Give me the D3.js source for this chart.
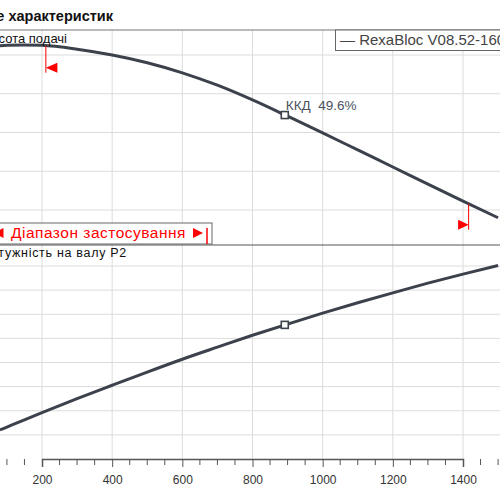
<!DOCTYPE html>
<html><head><meta charset="utf-8">
<script src="https://cdn.jsdelivr.net/npm/d3@7"></script>
<style>body{margin:0;background:#fff}svg{display:block;font-family:"Liberation Sans",Arial,sans-serif}</style>
</head><body><svg id="c" width="500" height="500"></svg>
<script>
// Flow Q (m³/h)
const flow = [80,100,150,200,300,400,500,600,700,800,900,1000,1100,1200,1300,1400,1500];
// Head H (m)
const head = [52.4,52.5,52.6,52.5,51.5,50.0,48.0,45.4,42.2,38.4,34.2,29.9,25.5,21.1,16.7,12.3,8.0];
// Shaft power P2 (kW)
const power = [30.1,33.1,40.6,48.0,62.5,76.4,90.1,103.4,115.9,128.2,139.8,151.1,161.9,172.2,182.2,191.6,200.6];
const xTicks = [200,400,600,800,1000,1200,1400];
const headTicks = [10,20,30,40,50];
const powerTicks = [25,50,75,100,125,150,175,200];
const dutyPoint = {q:892, h:34.5, p:139};
const rangeMin = 211, rangeMax = 1416;
const effLabel = "ККД  49.6%";

const svg = d3.select("#c");
const x = d3.scaleLinear().domain([200,1400]).range([42,463]);
const yH = d3.scaleLinear().domain([10,50]).range([210,55]);
const yP = d3.scaleLinear().domain([0,200]).range([459,266]);
const topY = 30, midY = 245, botY = 459;

const defs = svg.append("defs");
defs.append("clipPath").attr("id","cTop").append("rect").attr("x",0).attr("y",topY).attr("width",500).attr("height",midY-topY);
defs.append("clipPath").attr("id","cBot").append("rect").attr("x",0).attr("y",midY).attr("width",500).attr("height",botY-midY);

// grid
const grid = svg.append("g").attr("stroke","#dcdcdc").attr("stroke-width",1);
grid.selectAll(".v").data(xTicks).join("line")
  .attr("x1",d=>x(d)).attr("x2",d=>x(d)).attr("y1",topY).attr("y2",botY);
grid.selectAll(".h").data(headTicks).join("line")
  .attr("x1",0).attr("x2",500).attr("y1",d=>yH(d)).attr("y2",d=>yH(d));
grid.selectAll(".p").data(powerTicks).join("line")
  .attr("x1",0).attr("x2",500).attr("y1",d=>yP(d)).attr("y2",d=>yP(d));

// frame lines
svg.append("line").attr("x1",0).attr("x2",500).attr("y1",topY).attr("y2",topY).attr("stroke","#777").attr("stroke-width",1.2);
svg.append("line").attr("x1",0).attr("x2",500).attr("y1",midY).attr("y2",midY).attr("stroke","#555").attr("stroke-width",1.2);

// x axis
const xAxis = d3.axisBottom(x).tickValues(xTicks).tickSize(8).tickPadding(8).tickFormat(d3.format("d"));
const ax = svg.append("g").attr("transform",`translate(0,${botY})`).call(xAxis);
ax.select(".domain").attr("stroke","#555").attr("stroke-width",1.5);
ax.selectAll(".tick line").attr("stroke","#555");
ax.selectAll(".tick text").attr("font-size",12).attr("fill","#333").attr("font-family","Liberation Sans, Arial, sans-serif");
const minor = d3.range(0,1601,50).filter(d=>d%200!==0);
svg.append("g").selectAll("line").data(minor).join("line")
  .attr("x1",d=>x(d)).attr("x2",d=>x(d)).attr("y1",botY).attr("y2",botY+6).attr("stroke","#555");

// curves
const curveCol = "#3c424c";
const lineH = d3.line().x((d,i)=>x(flow[i])).y(d=>yH(d)).curve(d3.curveMonotoneX);
const lineP = d3.line().x((d,i)=>x(flow[i])).y(d=>yP(d)).curve(d3.curveMonotoneX);
svg.append("path").attr("clip-path","url(#cTop)").attr("d",lineH(head)).attr("fill","none").attr("stroke",curveCol).attr("stroke-width",3);
svg.append("path").attr("clip-path","url(#cBot)").attr("d",lineP(power)).attr("fill","none").attr("stroke",curveCol).attr("stroke-width",3);

// duty point markers
svg.append("rect").attr("x",x(dutyPoint.q)-3.5).attr("y",yH(dutyPoint.h)-3.5).attr("width",7).attr("height",7).attr("fill","#fff").attr("stroke",curveCol).attr("stroke-width",1.6);
svg.append("rect").attr("x",x(dutyPoint.q)-3.5).attr("y",yP(dutyPoint.p)-3.5).attr("width",7).attr("height",7).attr("fill","#fff").attr("stroke",curveCol).attr("stroke-width",1.6);
svg.append("text").attr("x",x(dutyPoint.q)+1).attr("y",yH(dutyPoint.h)-5.5).attr("font-size",13.5).attr("fill","#4a5260").style("white-space","pre").text(effLabel);

// range markers
const hAt = q => { const i = d3.bisectLeft(flow,q); const t=(q-flow[i-1])/(flow[i]-flow[i-1]); return head[i-1]+t*(head[i]-head[i-1]); };
const xl = x(rangeMin), yl = yH(hAt(rangeMin));
svg.append("line").attr("x1",xl).attr("x2",xl).attr("y1",yl).attr("y2",yl+27).attr("stroke","red").attr("stroke-width",1);
svg.append("path").attr("d",`M${xl},${yl+22}L${xl+11.5},${yl+17}L${xl+11.5},${yl+27}Z`).attr("fill","red");
const xr = x(rangeMax), yr = yH(hAt(rangeMax));
svg.append("line").attr("x1",xr).attr("x2",xr).attr("y1",yr).attr("y2",yr+26).attr("stroke","red").attr("stroke-width",1);
svg.append("path").attr("d",`M${xr},${yr+21}L${xr-10.5},${yr+16}L${xr-10.5},${yr+26}Z`).attr("fill","red");

// range box
svg.append("rect").attr("x",-20).attr("y",223).attr("width",232).attr("height",21).attr("fill","#fff").attr("stroke","#666").attr("stroke-width",1);
svg.append("path").attr("d","M-7,233L3.5,228L3.5,238Z").attr("fill","red");
svg.append("text").attr("x",186).attr("y",237.5).attr("text-anchor","end").attr("font-size",15.5).attr("letter-spacing",0.5).attr("fill","red").text("Діапазон застосування");
svg.append("path").attr("d","M193,228L203,233L193,238Z").attr("fill","red");
svg.append("line").attr("x1",207).attr("x2",207).attr("y1",228).attr("y2",244).attr("stroke","red").attr("stroke-width",1.5);

// legend
svg.append("rect").attr("x",335.5).attr("y",topY).attr("width",200).attr("height",20.5).attr("fill","#fff").attr("stroke","#666").attr("stroke-width",1);
svg.append("text").attr("x",340).attr("y",45).attr("font-size",15).attr("fill","#444").text("— RexaBloc V08.52-160");

// titles / axis labels
svg.append("text").attr("x",113).attr("y",21).attr("text-anchor","end").attr("font-size",14.5).attr("font-weight","bold").attr("fill","#111").text("Поле характеристик");
svg.append("text").attr("x",67).attr("y",42.5).attr("text-anchor","end").attr("font-size",13).attr("fill","#111").text("Висота подачі");
svg.append("text").attr("x",127).attr("y",256.5).attr("text-anchor","end").attr("font-size",12.5).attr("fill","#111").attr("letter-spacing",0.7).text("Потужність на валу  P2");
</script></body></html>
